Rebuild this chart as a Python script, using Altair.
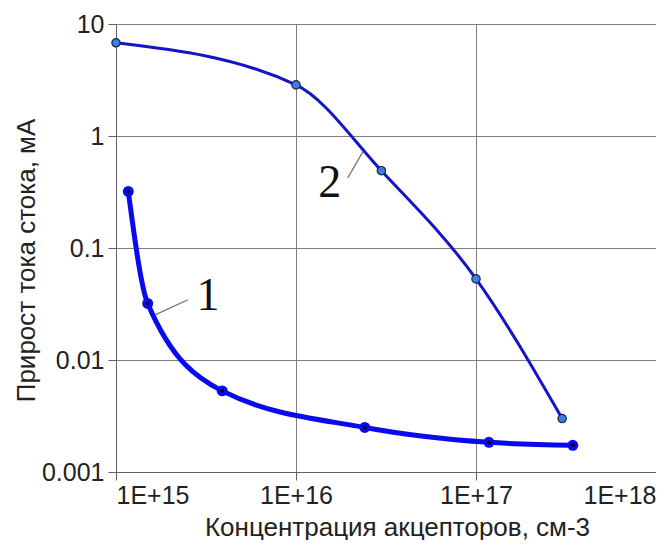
import altair as alt
import pandas as pd

# Curve 2 (upper)
c2_x = [1e15, 1e16, 2.98e16, 1e17, 3.01e17]
c2_y = [6.8, 2.86, 0.49, 0.053, 0.0030]

# Curve 1 (lower, thick)
c1_x = [1.17e15, 1.50e15, 3.89e15, 2.41e16, 1.18e17, 3.45e17]
c1_y = [0.32, 0.032, 0.0053, 0.0025, 0.00184, 0.00173]

# Curve labels and their leader lines
lab_text = ["1", "2"]
lab_x = [3.24e15, 1.54e16]
lab_y = [0.0281, 0.288]
lead_x1 = [1.65e15, 1.94e16]
lead_y1 = [0.0253, 0.423]
lead_x2 = [2.51e15, 2.35e16]
lead_y2 = [0.0345, 0.721]

x_ticks = [1e15, 1e16, 1e17, 1e18]
y_ticks = [0.001, 0.01, 0.1, 1, 10]

df1 = pd.DataFrame({"x": c1_x, "y": c1_y})
df2 = pd.DataFrame({"x": c2_x, "y": c2_y})
dlab = pd.DataFrame({"t": lab_text, "x": lab_x, "y": lab_y})
dlead = pd.DataFrame({"x": lead_x1, "y": lead_y1, "x2": lead_x2, "y2": lead_y2})

FONT = "Liberation Sans"

xscale = alt.Scale(type="log", domain=[1e15, 1e18])
yscale = alt.Scale(type="log", domain=[0.001, 10])

xaxis = alt.Axis(
    values=x_ticks,
    labelExpr="'1E+' + round(log(datum.value)/LN10)",
    title="Концентрация акцепторов, см-3",
    grid=True, gridColor="#808080", gridWidth=1,
    domainColor="#606060", tickColor="#606060", tickSize=8,
    labelFont=FONT, labelFontSize=25, labelColor="#222222", labelPadding=3,
    labelFlush=True,
    titleFont=FONT, titleFontSize=26, titleFontWeight="normal", titleColor="#222222",
    titleY=63, titleX=281, titleBaseline="alphabetic", titleAlign="center",
)
yaxis = alt.Axis(
    values=y_ticks,
    format="~g",
    title="Прирост тока стока, мА",
    grid=True, gridColor="#808080", gridWidth=1,
    domainColor="#606060", tickColor="#606060", tickSize=8,
    labelFont=FONT, labelFontSize=25, labelColor="#222222", labelPadding=4,
    labelFlush=False,
    titleFont=FONT, titleFontSize=26, titleFontWeight="normal", titleColor="#222222",
    titleX=-82, titleY=236, titleBaseline="alphabetic", titleAngle=-90, titleAlign="center",
)

X = lambda f="x": alt.X(f"{f}:Q", scale=xscale, axis=xaxis)
Y = lambda f="y": alt.Y(f"{f}:Q", scale=yscale, axis=yaxis)

line2 = alt.Chart(df2).mark_line(color="#1414c8", strokeWidth=3, interpolate="monotone").encode(x=X(), y=Y())
pts2 = alt.Chart(df2).mark_point(filled=True, fill="#3d7ee6", stroke="#1a2340", strokeWidth=1.2, size=70, opacity=1).encode(x=X(), y=Y())

line1 = alt.Chart(df1).mark_line(color="#0a0aee", strokeWidth=5, interpolate="monotone").encode(x=X(), y=Y())
pts1 = alt.Chart(df1).mark_point(filled=True, color="#0a0aee", size=120, opacity=1).encode(x=X(), y=Y())
dots1 = alt.Chart(df1).mark_point(filled=True, color="#000000", size=14, opacity=1).encode(x=X(), y=Y())

leads = alt.Chart(dlead).mark_rule(color="#707070", strokeWidth=1.2).encode(
    x=X(), y=Y(), x2="x2:Q", y2="y2:Q")
labels = alt.Chart(dlab).mark_text(font="Liberation Serif", fontSize=46, color="#111111",
                                   align="center", baseline="alphabetic").encode(
    x=X(), y=Y(), text="t:N")

chart = alt.layer(line2, pts2, line1, pts1, dots1, leads, labels).properties(
    width=540, height=448,
    autosize=alt.AutoSizeParams(type="none"),
    padding={"left": 108, "top": 16, "right": 0, "bottom": 68},
).configure_view(stroke="#808080", strokeWidth=1).configure(background="white")

chart.save("out.html", embed_options={"renderer": "svg", "actions": False})
